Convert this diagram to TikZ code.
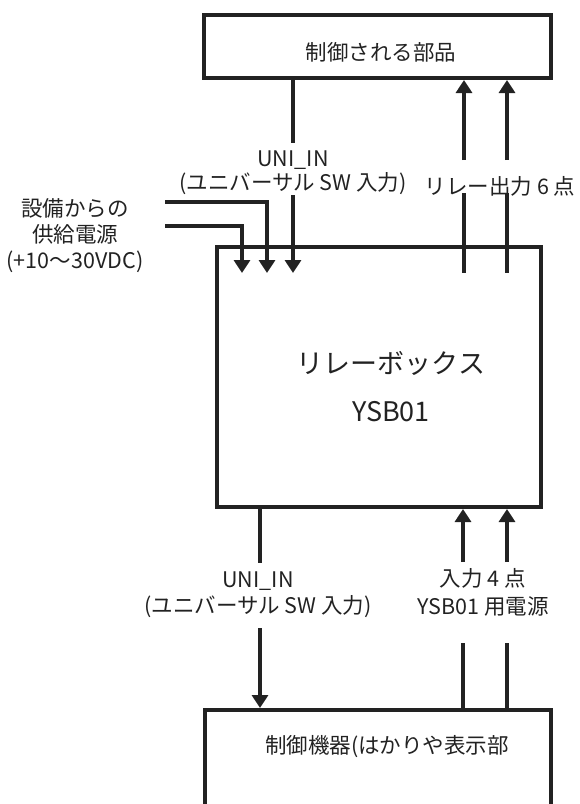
\documentclass[tikz,border=0pt]{standalone}
\usepackage{fontspec}
\setmainfont{Noto Sans CJK JP}
\usetikzlibrary{arrows.meta}
\definecolor{ink}{HTML}{222222}
\begin{document}
\begin{tikzpicture}[x=1pt,y=-1pt,
  lbl/.style={font=\fontsize{21.5}{24}\selectfont, text=ink, align=center, inner sep=0pt},
  big/.style={font=\fontsize{27}{30}\selectfont, text=ink, inner sep=0pt},
  box/.style={draw=ink, line width=4pt, rectangle, inner sep=0pt},
  wire/.style={draw=ink, line width=3.5pt},
  arr/.style={wire, -{Triangle[width=16pt,length=13pt]}}]
\useasboundingbox (0,0) rectangle (579,804);
\begin{scope}
\clip (0,0) rectangle (579,804);
% boxes
\node[box, minimum width=347pt, minimum height=63.5pt] (parts) at (377.5,46.25) {};
\node[lbl] (partsT) at (381,52) {制御される部品};
\node[box, minimum width=324pt, minimum height=260pt] (relay) at (378.5,377) {};
\node[big] (relayT1) at (391,363) {リレーボックス};
\node[big] (relayT2) at (391,412) {YSB01};
\node[box, minimum width=345.5pt, minimum height=160pt] (ctrl) at (377.75,790) {};
\node[lbl] (ctrlT) at (387,747) {制御機器(はかりや表示部};
% labels
\node[lbl] (uniTop) at (293,173) {UNI\_IN\\(ユニバーサル SW 入力)};
\node[lbl] (outL) at (500,186) {リレー出力 6 点};
\node[lbl, font=\fontsize{21.5}{26}\selectfont] (supL) at (75,236) {設備からの\\供給電源\\(+10〜30VDC)};
\node[lbl, font=\fontsize{21.5}{26}\selectfont] (uniBot) at (258,595) {UNI\_IN\\(ユニバーサル SW 入力)};
\node[lbl, font=\fontsize{21.5}{28}\selectfont] (inL) at (483,592) {入力 4 点\\YSB01 用電源};
% coordinates
\coordinate (u1a) at (293,143);
\coordinate (u1b) at (293,195);
\coordinate (u1t) at (293,273);
\coordinate (s1) at (165,202);
\coordinate (s1t) at (267,273);
\coordinate (s2) at (165,226);
\coordinate (s2t) at (242,273);
\coordinate (o1a) at (464,160);
\coordinate (o1b) at (464,193);
\coordinate (o1c) at (464,273);
\coordinate (o2a) at (507,160);
\coordinate (o2b) at (507,193);
\coordinate (o2c) at (507,273);
\coordinate (b1a) at (260,563);
\coordinate (b1b) at (260,628);
\coordinate (i1a) at (463,562);
\coordinate (i1b) at (463,643);
\coordinate (i2a) at (507,562);
\coordinate (i2b) at (507,643);
% top connectors
\draw[wire] (parts.south -| u1a) -- (u1a);
\draw[arr] (u1b) -- (u1t);
\draw[arr] (s1) -| (s1t);
\draw[arr] (s2) -| (s2t);
\draw[arr] (o1a) -- (parts.south -| o1a);
\draw[arr] (o2a) -- (parts.south -| o2a);
\draw[wire] (o1b) -- (o1c);
\draw[wire] (o2b) -- (o2c);
% bottom connectors
\draw[wire] (relay.south -| b1a) -- (b1a);
\draw[arr] (b1b) -- (ctrl.north -| b1b);
\draw[arr] (i1a) -- (relay.south -| i1a);
\draw[arr] (i2a) -- (relay.south -| i2a);
\draw[wire] (i1b) -- (ctrl.north -| i1b);
\draw[wire] (i2b) -- (ctrl.north -| i2b);
\end{scope}
\end{tikzpicture}
\end{document}
